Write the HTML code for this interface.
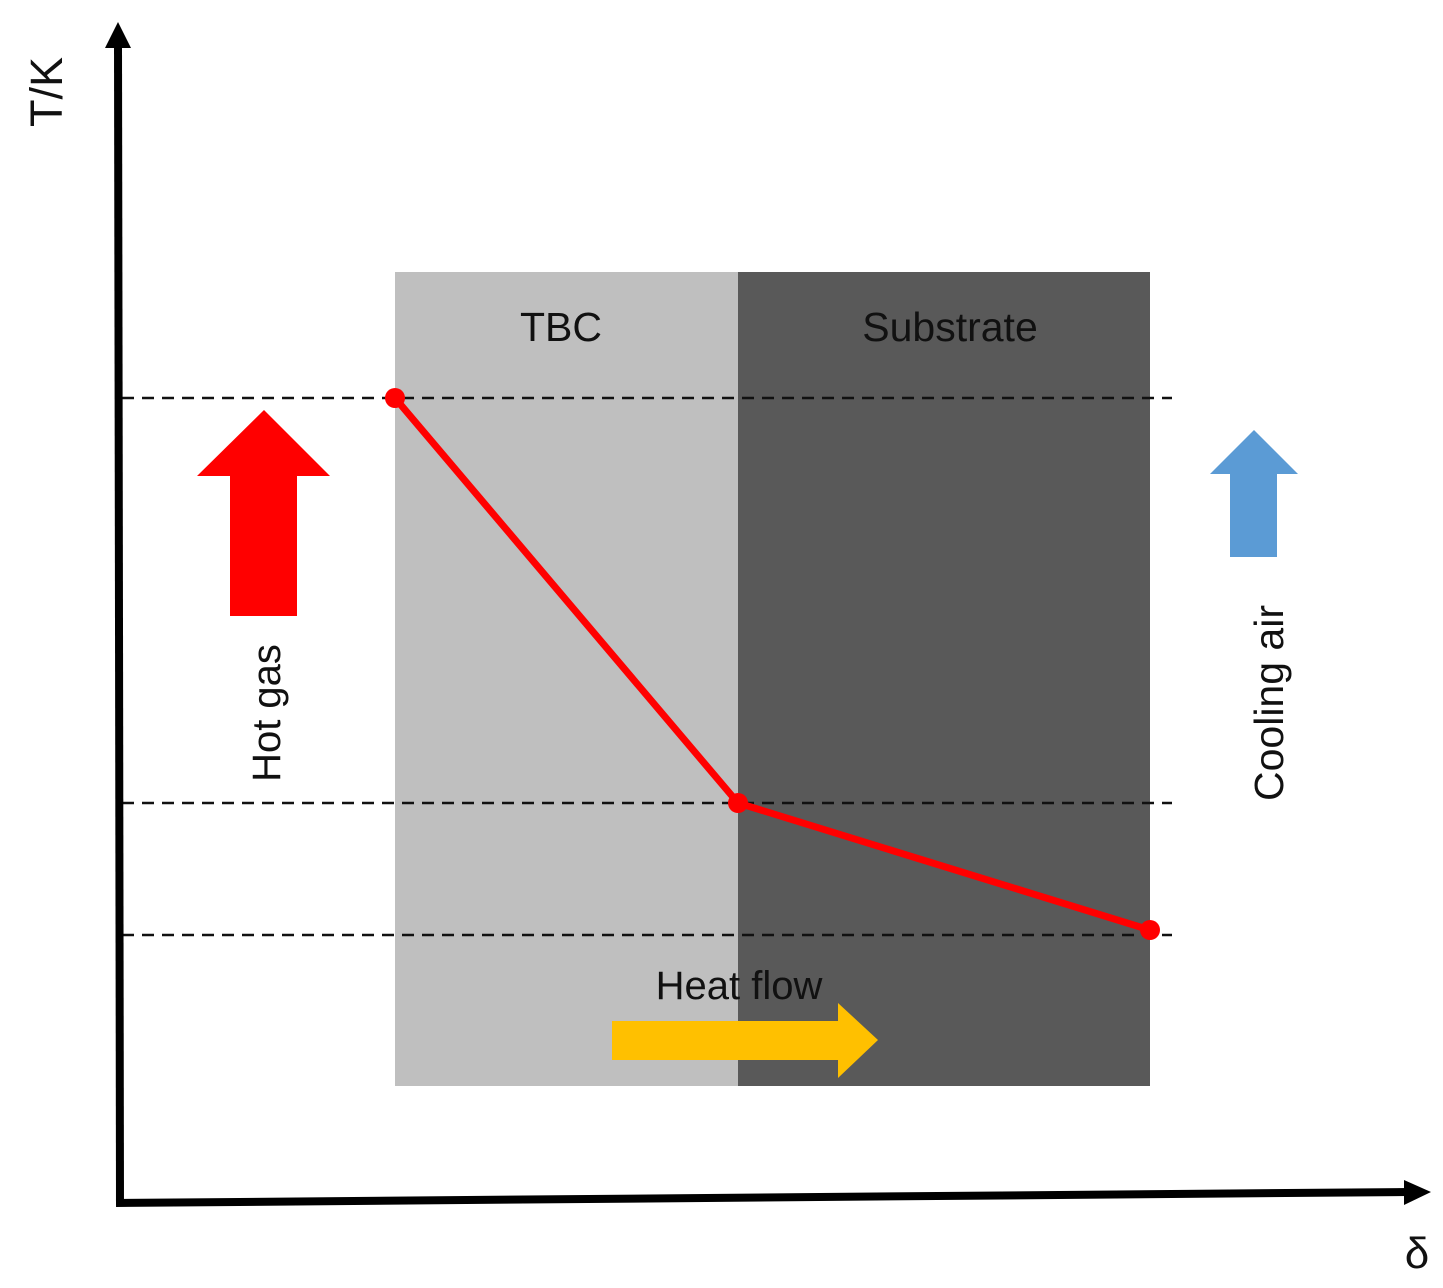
<!DOCTYPE html>
<html><head><style>
html,body{margin:0;padding:0;background:#fff;}
svg{display:block;}
text{font-family:"Liberation Sans",sans-serif;fill:#111;}
</style></head><body>
<svg width="1443" height="1288" viewBox="0 0 1443 1288">
<rect x="395" y="272" width="343" height="814" fill="#bfbfbf"/>
<rect x="738" y="272" width="412" height="814" fill="#595959"/>
<text x="561" y="341" font-size="41" text-anchor="middle">TBC</text>
<text x="950" y="341" font-size="41" text-anchor="middle">Substrate</text>
<g stroke="#111" stroke-width="2.5" stroke-dasharray="12,8">
<line x1="122" y1="398" x2="1172" y2="398"/>
<line x1="122" y1="803" x2="1172" y2="803"/>
<line x1="122" y1="935" x2="1172" y2="935"/>
</g>
<polyline points="395,398 738,803 1150,930" fill="none" stroke="#f00" stroke-width="7" stroke-linejoin="round"/>
<circle cx="395" cy="398" r="10" fill="#f00"/>
<circle cx="738" cy="803" r="10" fill="#f00"/>
<circle cx="1150" cy="930" r="10" fill="#f00"/>
<polygon points="230,616 297,616 297,476 330,476 264,410 197,476 230,476" fill="#f00"/>
<polygon points="1230,557 1277,557 1277,474 1298,474 1254,430 1210,474 1230,474" fill="#5b9bd5"/>
<polygon points="612,1021 838,1021 838,1003 878,1040 838,1078 838,1060 612,1060" fill="#ffc000"/>
<text x="739" y="999" font-size="40" text-anchor="middle">Heat flow</text>
<text transform="translate(280,713) rotate(-90)" font-size="40" text-anchor="middle">Hot gas</text>
<text transform="translate(1283,703) rotate(-90)" font-size="41" text-anchor="middle">Cooling air</text>
<text transform="translate(62,92) rotate(-90)" font-size="45" text-anchor="middle">T/K</text>
<line x1="118" y1="45" x2="120" y2="1205" stroke="#000" stroke-width="8"/>
<polygon points="118,22 131,48 105,48" fill="#000"/>
<line x1="116" y1="1203" x2="1408" y2="1192" stroke="#000" stroke-width="8"/>
<polygon points="1431,1192 1404,1180 1404,1205" fill="#000"/>
<text x="1417" y="1268" font-size="44" text-anchor="middle">δ</text>
</svg>
</body></html>
